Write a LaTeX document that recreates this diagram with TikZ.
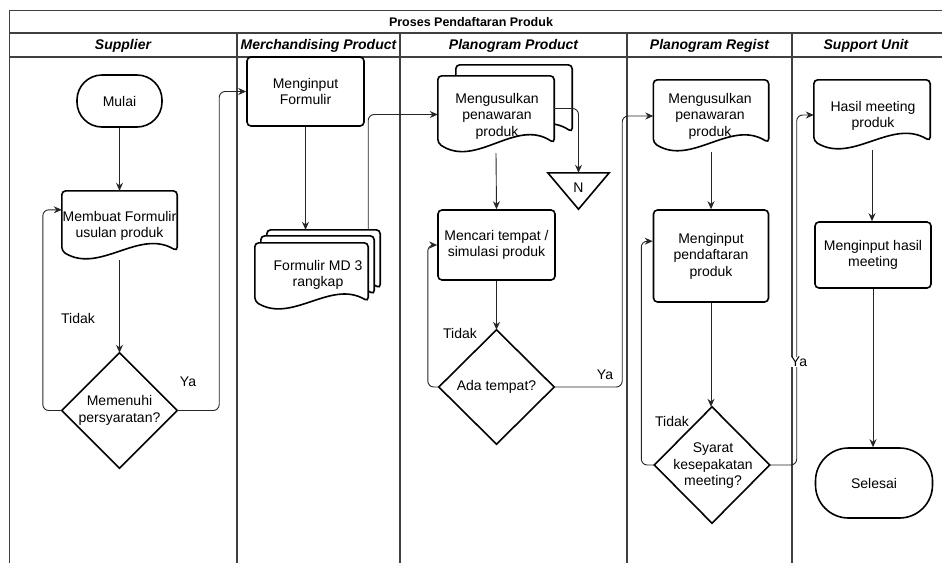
\documentclass[tikz,border=0pt]{standalone}
\usepackage{fontspec}
\setmainfont{Liberation Sans}
\usetikzlibrary{arrows.meta,calc}
\newcommand\bodyf{\fontsize{14}{16.5}\selectfont}
\newcommand\headf{\fontsize{14}{16}\selectfont\bfseries\itshape}
\newcommand\titlef{\fontsize{12.5}{15}\selectfont\bfseries}
\tikzset{
  lane/.style={draw=black!75, line width=1.3pt},
  shp/.style={draw=none, inner sep=0pt, align=center, font=\bodyf},
  docline/.style={draw=black, line width=1.6pt, fill=white, rounded corners=4pt},
  procbox/.style={shp, draw=black, line width=1.6pt, fill=white, rounded corners=4pt},
  termbox/.style={shp, draw=black, line width=1.6pt, fill=white},
  conn/.style={draw=black!85, line width=0.9pt, rounded corners=6pt, -{Stealth[length=8pt,width=7pt]}},
  lbl/.style={font=\bodyf, inner sep=1pt},
  hdr/.style={font=\headf, inner sep=0pt},
}
\newcommand\docshape[1]{%
  \path[docline] let \p1=(#1.north west), \p2=(#1.south east), \n1={\y1-\y2}, \n2={\x2-\x1} in
    (\x1,\y1) -- (\x2,\y1) -- (\x2,{\y2+0.13*\n1})
    .. controls ({\x2-0.33*\n2},{\y2+0.46*\n1}) and ({\x1+0.33*\n2},{\y2-0.20*\n1}) ..
    (\x1,{\y2+0.13*\n1}) -- cycle;}
\newcommand\diamondshape[1]{%
  \path[docline, rounded corners=0pt] (#1.north) -- (#1.east) -- (#1.south) -- (#1.west) -- cycle;}
\begin{document}
\begin{tikzpicture}[x=1pt,y=-1pt]
\useasboundingbox (0,0) rectangle (942,563);
% ---- pool frame
\draw[lane] (9.5,563) -- (9.5,10.5) -- (942,10.5);
\draw[lane] (9.5,33) -- (942,33);
\draw[lane] (9.5,57) -- (942,57);
\foreach \xx in {237,400,627,792} \draw[lane] (\xx,33) -- (\xx,563);
\node[font=\titlef, inner sep=0pt] (title) at (471,22) {Proses Pendaftaran Produk};
\node[hdr] (h1) at (123,45.5) {Supplier};
\node[hdr] (h2) at (318.5,45.5) {Merchandising Product};
\node[hdr] (h3) at (513.5,45.5) {Planogram Product};
\node[hdr] (h4) at (709.5,45.5) {Planogram Regist};
\node[hdr] (h5) at (866,45.5) {Support Unit};

% ---- Supplier
\node[termbox, rounded corners=25pt, minimum width=85pt, minimum height=52pt] (mulai) at (119.5,101) {Mulai};
\node[shp, minimum width=115pt, minimum height=69pt] (membuat) at (119.5,225.5) {};
\docshape{membuat}
\node[shp] at (119.5,226) {Membuat Formulir\\usulan produk};
\node[shp, minimum width=115pt, minimum height=115pt] (memenuhi) at (119.5,410.5) {};
\diamondshape{memenuhi}
\node[shp] at (119.5,410.5) {Memenuhi\\persyaratan?};

% ---- Merchandising
\node[procbox, minimum width=117pt, minimum height=69pt] (menginput) at (305.5,91.5) {Menginput\\Formulir};
\node[shp, minimum width=113pt, minimum height=67pt] (md3b) at (323.5,263.5) {};
\node[shp, minimum width=113pt, minimum height=67pt] (md3m) at (317.5,269.5) {};
\node[shp, minimum width=113pt, minimum height=67pt] (md3) at (311.5,276.5) {};
\docshape{md3b}
\docshape{md3m}
\docshape{md3}
\node[shp] at (318,275) {Formulir MD 3\\rangkap};

% ---- Planogram Product
\node[shp, minimum width=116pt, minimum height=77pt] (usul1b) at (514,103.5) {};
\node[shp, minimum width=116pt, minimum height=77pt] (usul1) at (496,114.5) {};
\docshape{usul1b}
\docshape{usul1}
\node[shp] at (497,116) {Mengusulkan\\penawaran\\produk};
\node[shp, minimum width=61pt, minimum height=36pt] (offp) at (578.5,191) {};
\path[docline, rounded corners=0pt] (offp.north west) -- (offp.north east) -- (offp.south) -- cycle;
\node[shp] at (578.5,188) {N};
\node[procbox, minimum width=117pt, minimum height=70pt] (mencari) at (496.5,245) {Mencari tempat /\\simulasi produk};
\node[shp, minimum width=115pt, minimum height=114pt] (ada) at (496.5,387) {};
\diamondshape{ada}
\node[shp] at (496.5,387) {Ada tempat?};

% ---- Planogram Regist
\node[shp, minimum width=115pt, minimum height=72pt] (usul2) at (711,116) {};
\docshape{usul2}
\node[shp] at (710,116) {Mengusulkan\\penawaran\\produk};
\node[procbox, minimum width=115pt, minimum height=92pt] (daftar) at (711,256) {Menginput\\pendaftaran\\produk};
\node[shp, minimum width=115pt, minimum height=116pt] (syarat) at (712,465) {};
\diamondshape{syarat}
\node[shp] at (713,466) {Syarat\\kesepakatan\\meeting?};

% ---- Support Unit
\node[shp, minimum width=116pt, minimum height=70pt] (hasil) at (872,115) {};
\docshape{hasil}
\node[shp] at (873,116) {Hasil meeting\\produk};
\node[procbox, minimum width=116pt, minimum height=66pt] (inputhasil) at (873,255) {Menginput hasil\\meeting};
\node[termbox, rounded corners=33pt, minimum width=117pt, minimum height=70pt] (selesai) at (874,483) {Selesai};

% ---- connectors
\draw[conn] (mulai.south) -- (membuat.north);
\draw[conn] (membuat.south) -- (memenuhi.north);
\draw[conn] (memenuhi.west) -- ++(-19,0) |- ($(membuat.north west)+(0,19)$);
\draw[conn] (memenuhi.east) -- ++(42,0) |- (menginput.west);
\draw[conn] (menginput.south) -- (menginput.south |- md3b.north);
\draw[conn] ($(md3b.north east)+(-12,0)$) |- (usul1.west);
\draw[conn] ($(usul1.east)+(0,-6)$) -| (offp.north);
\draw[conn] (usul1.south) -- (mencari.north);
\draw[conn] (mencari.south) -- (ada.north);
\draw[conn] (ada.west) -- ++(-11,0) |- (mencari.west);
\draw[conn] (ada.east) -- ++(68,0) |- (usul2.west);
\draw[conn] (usul2.south) -- (daftar.north);
\draw[conn] (daftar.south) -- (daftar.south |- syarat.north);
\draw[conn] (syarat.west) -- ++(-13,0) |- ($(daftar.north west)+(0,32)$);
\draw[conn] (syarat.east) -- ++(27,0) |- (hasil.west);
\draw[conn] (hasil.south) -- (hasil.south |- inputhasil.north);
\draw[conn] (inputhasil.south) -- (inputhasil.south |- selesai.north);

% ---- labels
\node[lbl] (t1) at (78,318) {Tidak};
\node[lbl] (y1) at (188,382) {Ya};
\node[lbl] (t2) at (460,333) {Tidak};
\node[lbl] (y2) at (605,375) {Ya};
\node[lbl] (t3) at (672,421) {Tidak};
\node[lbl, fill=white, inner sep=0.5pt] (y3) at (799,362) {Ya};
\end{tikzpicture}
\end{document}
